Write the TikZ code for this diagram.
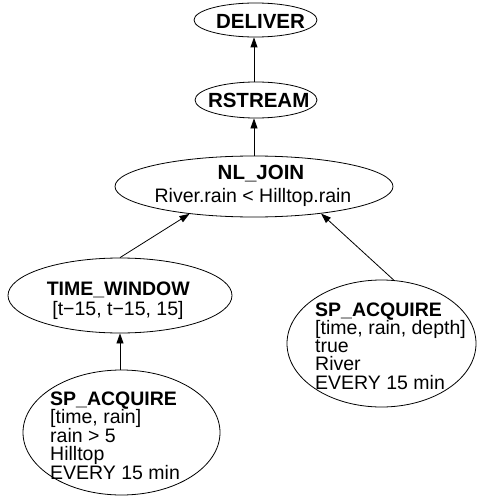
\documentclass[tikz,border=0pt]{standalone}
\usepackage{fontspec}
\setmainfont{Liberation Sans}
\usetikzlibrary{shapes.geometric,arrows.meta}

% left-aligned block of lines, baseline on the first line
\newcommand\linestack[2]{\vtop{\baselineskip=#1\lineskiplimit=-\maxdimen\lineskip=0pt
  \halign{##\hfil\cr #2\crcr}}}

\tikzset{
  op/.style={draw, ellipse, line width=0.8pt, inner sep=0pt},
  lbl/.style={inner sep=0pt, font=\fontsize{19.5}{18.4}\selectfont},
  ttl/.style={inner sep=0pt, font=\fontsize{20.5}{20}\selectfont\bfseries},
  edge/.style={line width=0.8pt, -{Triangle[length=10pt,width=7pt]}},
}

\begin{document}
\begin{tikzpicture}[x=1pt,y=1pt]
  \useasboundingbox (0,0) rectangle (477,-500);

  % operator ellipses
  \node[op, minimum width=123, minimum height=34] (del) at (255.5,-20) {};
  \node[op, minimum width=122, minimum height=36] (rs) at (256,-100) {};
  \node[op, minimum width=278, minimum height=61] (nl) at (254,-186.5) {};
  \node[op, minimum width=224, minimum height=75] (tw) at (120,-295.5) {};
  \node[op, minimum width=197, minimum height=125] (acqH) at (121.5,-432.5) {};
  \node[op, minimum width=189, minimum height=127] (acqR) at (381.5,-343.5) {};

  % operator texts
  \node[ttl, anchor=base] (delT) at (260.5,-28.3) {DELIVER};
  \node[ttl, anchor=base] (rsT) at (258.7,-107.3) {RSTREAM};
  \node[ttl, anchor=base] (nlT) at (261,-179.5) {NL\_JOIN};
  \node[lbl, anchor=base] (nlB) at (253,-202) {River.rain < Hilltop.rain};
  \node[lbl, anchor=base, font=\fontsize{19.5}{20}\selectfont\bfseries] (twT) at (118.3,-295) {TIME\_WINDOW};
  \node[lbl, anchor=base] (twB) at (118,-315) {[t−15, t−15, 15]};
  \node[lbl, anchor=base west] (acqHT) at (50,-405)
    {\linestack{18.5pt}{\textbf{SP\_ACQUIRE}\cr [time, rain]\cr rain > 5\cr Hilltop\cr EVERY 15 min}};
  \node[lbl, anchor=base west] (acqRT) at (315,-316)
    {\linestack{18.3pt}{\textbf{SP\_ACQUIRE}\cr [time, rain, depth]\cr true\cr River\cr EVERY 15 min}};

  % data flow
  \draw[edge] (tw.south |- acqH.north) -- (tw.south);
  \draw[edge] (tw.north) -- (nl.203.5);
  \draw[edge] (acqR.79) -- (nl.338.7);
  \draw[edge] (nl.north) -- (nl.north |- rs.south);
  \draw[edge] (nl.north |- rs.north) -- (nl.north |- del.south);
\end{tikzpicture}
\end{document}
